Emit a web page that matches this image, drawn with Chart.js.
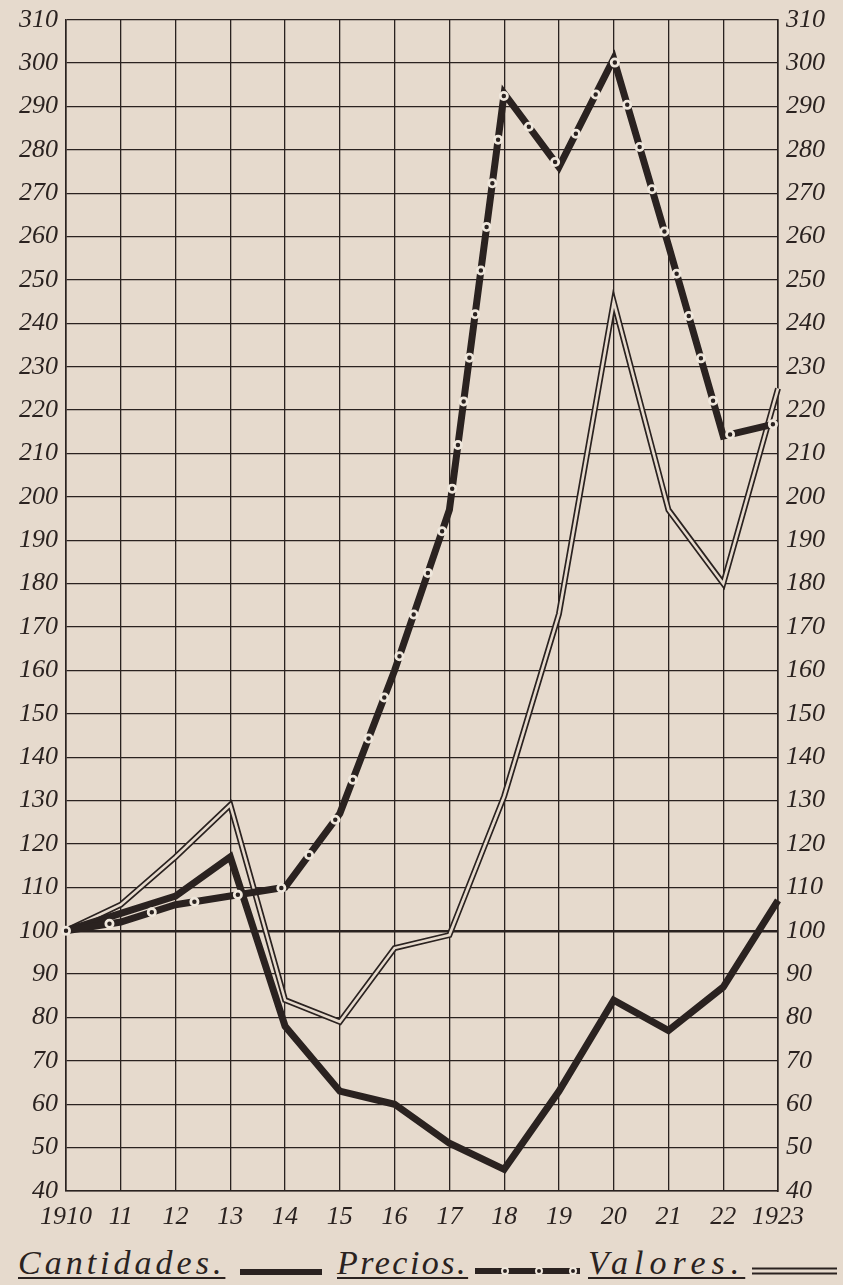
<!DOCTYPE html>
<html>
<head>
<meta charset="utf-8">
<script src="https://cdn.jsdelivr.net/npm/chart.js@4.4.1/dist/chart.umd.min.js"></script>
<style>
body { margin: 0; background: #e6dacd; width: 843px; height: 1285px; overflow: hidden; font-family: "Liberation Serif", serif; color: #2a2220; }
#wrap { position: relative; width: 843px; height: 1240px; }
.leyenda { display: flex; align-items: flex-end; height: 42px; padding-left: 18px; font-style: italic; font-size: 34px; }
.leyenda span { display: inline-block; white-space: nowrap; text-decoration: underline; text-decoration-thickness: 2px; text-underline-offset: 3px; }
.leyenda svg { margin-bottom: 6px; }
</style>
</head>
<body>
<div id="wrap"><canvas id="grafico" width="843" height="1240"></canvas></div>
<div class="leyenda">
  <span style="width:209px;letter-spacing:4px">Cantidades.</span>
  <svg width="82" height="8" style="margin-left:13px"><rect x="0" y="1" width="82" height="6" fill="#2a2220"/></svg>
  <span style="width:130px;letter-spacing:2.5px;margin-left:15px">Precios.</span>
  <svg width="105" height="10" style="margin-left:8px"><line x1="0" y1="5" x2="105" y2="5" stroke="#2a2220" stroke-width="6"/><line x1="30" y1="5" x2="105" y2="5" stroke="#efe7dc" stroke-width="8" stroke-dasharray="0 34" stroke-linecap="round"/><line x1="30" y1="5" x2="105" y2="5" stroke="#2a2220" stroke-width="4" stroke-dasharray="0 34" stroke-linecap="round"/></svg>
  <span style="width:159px;letter-spacing:6px;margin-left:8px">Valores.</span>
  <svg width="85" height="10" style="margin-left:5px"><line x1="0" y1="5" x2="85" y2="5" stroke="#2a2220" stroke-width="7"/><line x1="0" y1="5" x2="85" y2="5" stroke="#e6dacd" stroke-width="3"/></svg>
</div>
<script>
// datos (indice 1910 = 100)
const anios = ['1910', '11', '12', '13', '14', '15', '16', '17', '18', '19', '20', '21', '22', '1923'];
const cantidades = [100, 104, 108, 117, 78, 63, 60, 51, 45, 63, 84, 77, 87, 107];
const precios = [100, 102, 106, 108, 110, 127, 160, 197, 293, 276, 301, 258, 214, 217];
const valores = [100, 106, 117, 129, 84, 79, 96, 99, 131, 173, 245, 197, 180, 225];
const ejeMin = 40;
const ejeMax = 310;
const paso = 10;

const tinta = '#2a2220';
const papel = '#e6dacd';
const fuente = { family: 'Liberation Serif', size: 26, style: 'italic', lineHeight: 0.9 };

function linea(datos, color, ancho, orden, extra) {
    return Object.assign({
        data: datos,
        borderColor: color,
        borderWidth: ancho,
        pointRadius: 0,
        tension: 0,
        fill: false,
        borderJoinStyle: 'miter',
        order: orden
    }, extra || {});
}

const config = {
    type: 'line',
    data: {
        labels: anios,
        datasets: [
            linea(valores, tinta, 6, 6),                 // valores: borde exterior
            linea(valores, papel, 2.6, 5),               // valores: hueco interior
            linea(cantidades, tinta, 7, 4),
            linea(precios, tinta, 7, 3),
            linea(precios, '#efe7dc', 10, 2, { borderDash: [0, 44], borderCapStyle: 'round' }),
            linea(precios, tinta, 4.5, 1, { borderDash: [0, 44], borderCapStyle: 'round' })
        ]
    },
    options: {
        responsive: false,
        animation: false,
        layout: { padding: { top: 19 } },
        plugins: {
            legend: { display: false },
            tooltip: { enabled: false }
        },
        scales: {
            x: {
                type: 'category',
                offset: false,
                grid: { color: tinta, lineWidth: 1.3, drawTicks: false },
                border: { color: tinta, width: 1.6 },
                ticks: { color: tinta, font: fuente, padding: 14, maxRotation: 0, autoSkip: false },
                afterFit: function(s) { s.height = 49; }
            },
            y: {
                min: ejeMin,
                max: ejeMax,
                grid: {
                    color: tinta,
                    drawTicks: false,
                    lineWidth: function(ctx) { return ctx.tick && ctx.tick.value === 100 ? 2.4 : 1.3; }
                },
                border: { color: tinta, width: 1.6 },
                ticks: { stepSize: paso, color: tinta, font: fuente, padding: 8 },
                afterFit: function(s) { s.width = 66; }
            },
            y2: {
                position: 'right',
                min: ejeMin,
                max: ejeMax,
                grid: { display: false, drawTicks: false },
                border: { color: tinta, width: 1.6 },
                ticks: { stepSize: paso, color: tinta, font: fuente, padding: 8 },
                afterFit: function(s) { s.width = 65; }
            }
        }
    }
};

document.addEventListener('DOMContentLoaded', function() {
    const ctx = document.getElementById('grafico').getContext('2d');
    new Chart(ctx, config);
});
</script>
</body>
</html>
